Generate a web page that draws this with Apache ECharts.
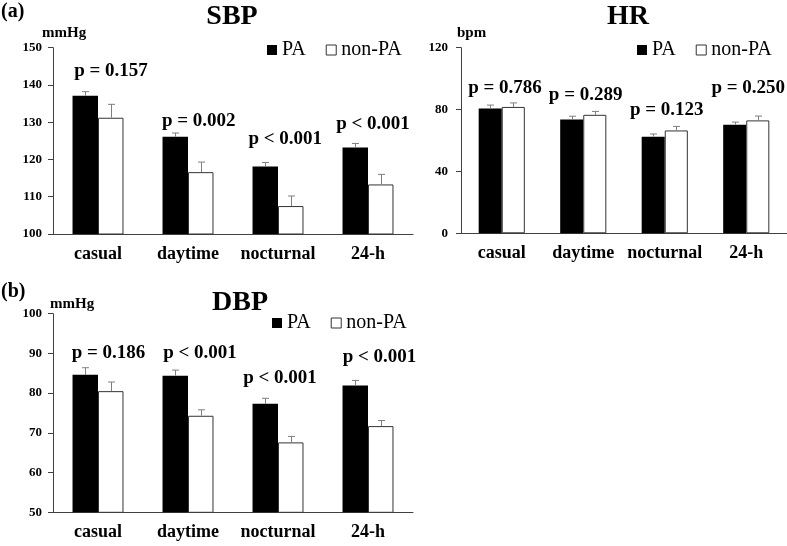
<!DOCTYPE html>
<html>
<head>
<meta charset="utf-8">
<script src="https://cdn.jsdelivr.net/npm/echarts@6/dist/echarts.min.js"></script>
<style>
html,body{margin:0;padding:0;background:#fff;}
#chart{width:787px;height:546px;}
</style>
</head>
<body>
<div id="chart"></div>
<script>
// ---------- data ----------
const categories = ['casual', 'daytime', 'nocturnal', '24-h'];
const seriesNames = ['PA', 'non-PA'];

const sbpPA = [137.1, 126.1, 118.1, 123.2];
const sbpPAse = [1.1, 1.0, 1.1, 1.1];
const sbpNon = [131.2, 116.6, 107.5, 113.3];
const sbpNonSe = [3.6, 2.7, 2.7, 2.7];
const sbpP = ['p = 0.157', 'p = 0.002', 'p < 0.001', 'p < 0.001'];
const sbpTicks = [100, 110, 120, 130, 140, 150];

const hrPA = [80.7, 73.6, 62.5, 70.2];
const hrPAse = [2.2, 2.1, 1.7, 1.7];
const hrNon = [81.7, 76.6, 66.5, 73.0];
const hrNonSe = [2.6, 2.2, 2.6, 2.8];
const hrP = ['p = 0.786', 'p = 0.289', 'p = 0.123', 'p = 0.250'];
const hrTicks = [0, 40, 80, 120];

const dbpPA = [84.6, 84.4, 77.3, 81.9];
const dbpPAse = [1.8, 1.4, 1.4, 1.3];
const dbpNon = [80.5, 74.3, 67.6, 71.7];
const dbpNonSe = [2.3, 1.5, 1.5, 1.4];
const dbpP = ['p = 0.186', 'p < 0.001', 'p < 0.001', 'p < 0.001'];
const dbpTicks = [50, 60, 70, 80, 90, 100];

// ---------- layout (annotation anchors: [category offset, value]) ----------
const sbpPAnchor = [[0.144, 143.8], [0.12, 130.4], [0.08, 125.5], [0.055, 129.5]];
const hrPAnchor = [[0.04, 94.2], [0.03, 89.3], [0.025, 79.8], [0.025, 94.2]];
const dbpPAnchor = [[0.117, 90.2], [0.133, 90.2], [0.022, 83.7], [0.128, 89.0]];

const FONT = "'Liberation Serif', 'Times New Roman', serif";
const BAR_FRAC = 0.283;
const AXIS_COLOR = '#404040';

const panels = [
  {grid: {left: 53, top: 47.7, width: 360, height: 186.3}, ticks: sbpTicks, labelMargin: 11,
   pa: sbpPA, paSe: sbpPAse, non: sbpNon, nonSe: sbpNonSe, p: sbpP, pAnchor: sbpPAnchor,
   legend: {left: 267, top: 40}},
  {grid: {left: 461, top: 47.7, width: 326, height: 185.6}, ticks: hrTicks, labelMargin: 13,
   pa: hrPA, paSe: hrPAse, non: hrNon, nonSe: hrNonSe, p: hrP, pAnchor: hrPAnchor,
   legend: {left: 637, top: 40}},
  {grid: {left: 53, top: 313.7, width: 360, height: 198.6}, ticks: dbpTicks, labelMargin: 11,
   pa: dbpPA, paSe: dbpPAse, non: dbpNon, nonSe: dbpNonSe, p: dbpP, pAnchor: dbpPAnchor,
   legend: {left: 272, top: 313}}
];

function errRender(side) {
  return function (params, api) {
    const idx = api.value(0), mean = api.value(1), se = api.value(2);
    const base = api.coord([idx, mean]);
    const top = api.coord([idx, mean + se]);
    const bw = api.size([1, 0])[0] * BAR_FRAC;
    const x = Math.round(base[0] + side * bw / 2) + 0.5;
    const st = {stroke: '#7f7f7f', lineWidth: 1};
    return {
      type: 'group',
      children: [
        {type: 'line', shape: {x1: x, y1: base[1], x2: x, y2: top[1]}, style: st},
        {type: 'line', shape: {x1: x - 3.5, y1: top[1], x2: x + 3.5, y2: top[1]}, style: st}
      ]
    };
  };
}

function pRender(texts) {
  return function (params, api) {
    const idx = api.value(0), off = api.value(1), yv = api.value(2);
    const c = api.coord([idx, yv]);
    const w = api.size([1, 0])[0];
    return {
      type: 'text',
      x: c[0] + off * w,
      y: c[1],
      style: {
        text: texts[params.dataIndex],
        fontFamily: FONT, fontWeight: 'bold', fontSize: 19, fill: '#000',
        align: 'center', verticalAlign: 'middle'
      }
    };
  };
}

const grids = [], xAxes = [], yAxes = [], series = [], legends = [];
panels.forEach((pn, i) => {
  grids.push(Object.assign({containLabel: false}, pn.grid));
  xAxes.push({
    type: 'category', gridIndex: i, data: categories,
    axisLine: {lineStyle: {color: AXIS_COLOR, width: 1}},
    axisTick: {show: false},
    axisLabel: {interval: 0, fontFamily: FONT, fontWeight: 'bold', fontSize: 18, color: '#000', margin: 11}
  });
  const t = pn.ticks;
  yAxes.push({
    type: 'value', gridIndex: i, min: t[0], max: t[t.length - 1], interval: t[1] - t[0],
    splitLine: {show: false},
    axisLine: {show: true, lineStyle: {color: AXIS_COLOR, width: 1}},
    axisTick: {show: true, length: 5, lineStyle: {color: AXIS_COLOR}},
    axisLabel: {fontFamily: FONT, fontWeight: 'bold', fontSize: 13, color: '#000', margin: pn.labelMargin}
  });
  series.push({
    name: seriesNames[0], type: 'bar', xAxisIndex: i, yAxisIndex: i, data: pn.pa,
    barWidth: (BAR_FRAC * 100) + '%', barGap: '0%',
    itemStyle: {color: '#000'}, emphasis: {disabled: true}, animation: false
  });
  series.push({
    name: seriesNames[1], type: 'bar', xAxisIndex: i, yAxisIndex: i, data: pn.non,
    barWidth: (BAR_FRAC * 100) + '%', barGap: '0%',
    itemStyle: {color: '#fff', borderColor: '#333', borderWidth: 1}, emphasis: {disabled: true}, animation: false
  });
  series.push({
    type: 'custom', xAxisIndex: i, yAxisIndex: i, z: 5, animation: false, silent: true,
    renderItem: errRender(-1),
    data: pn.pa.map((v, k) => [k, v, pn.paSe[k]])
  });
  series.push({
    type: 'custom', xAxisIndex: i, yAxisIndex: i, z: 5, animation: false, silent: true,
    renderItem: errRender(1),
    data: pn.non.map((v, k) => [k, v, pn.nonSe[k]])
  });
  series.push({
    type: 'custom', xAxisIndex: i, yAxisIndex: i, z: 6, animation: false, silent: true,
    renderItem: pRender(pn.p),
    data: pn.pAnchor.map((a, k) => [k, a[0], a[1]])
  });
  legends.push({
    left: pn.legend.left, top: pn.legend.top, padding: 0, orient: 'horizontal',
    itemWidth: 10, itemHeight: 10, itemGap: 20, selectedMode: false,
    textStyle: {fontFamily: FONT, fontWeight: 'normal', fontSize: 20, color: '#000', lineHeight: 20},
    data: [
      {name: 'PA', icon: 'rect', itemStyle: {color: '#000', borderWidth: 0}},
      {name: 'non-PA', icon: 'rect', itemStyle: {color: '#fff', borderColor: '#333', borderWidth: 1}}
    ]
  });
});

function txt(x, y, text, size, align) {
  return {type: 'text', x: x, y: y, silent: true,
    style: {text: text, fontFamily: FONT, fontWeight: 'bold', fontSize: size, fill: '#000',
      align: align || 'left', verticalAlign: 'middle'}};
}

const chart = echarts.init(document.getElementById('chart'), null, {renderer: 'canvas'});
chart.setOption({
  backgroundColor: '#fff',
  animation: false,
  textStyle: {fontFamily: FONT},
  grid: grids, xAxis: xAxes, yAxis: yAxes, series: series, legend: legends,
  graphic: [
    txt(1, 12, '(a)', 20),
    txt(1, 292, '(b)', 20),
    txt(232, 17, 'SBP', 28, 'center'),
    txt(628, 17, 'HR', 28, 'center'),
    txt(240, 302.5, 'DBP', 28, 'center'),
    txt(42, 33, 'mmHg', 15),
    txt(457, 33, 'bpm', 15),
    txt(50, 304, 'mmHg', 15)
  ]
});
</script>
</body>
</html>
